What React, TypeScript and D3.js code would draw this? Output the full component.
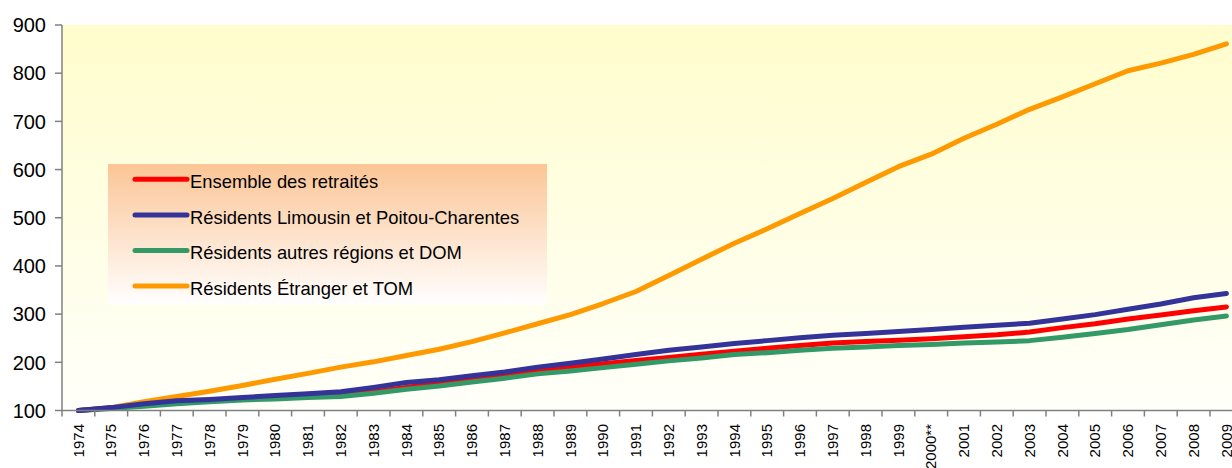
import React from "react";
import * as d3 from "d3";

const years = ["1974","1975","1976","1977","1978","1979","1980","1981","1982","1983","1984","1985","1986","1987","1988","1989","1990","1991","1992","1993","1994","1995","1996","1997","1998","1999","2000**","2001","2002","2003","2004","2005","2006","2007","2008","2009"];

const ensemble = [100,105,111,117,121,124,127,130,133,139,148,157,165,174,183,190,197,204,210,217,223,229,235,240,243,246,249,253,257,263,272,280,290,298,307,315];
const limousin = [100,106,114,120,123,127,131,135,139,148,158,164,172,180,190,198,207,216,225,232,239,245,251,256,260,264,268,273,277,281,290,299,310,321,334,343];
const autres = [100,104,109,114,118,122,124,127,129,136,144,151,159,167,176,182,189,196,203,209,216,220,225,229,232,235,237,240,242,245,252,260,268,278,288,296];
const etranger = [100,106,118,129,140,152,165,177,190,201,214,227,243,261,280,299,322,347,380,414,447,477,509,540,573,606,632,665,694,725,751,778,805,821,839,861];

const yTicks = [100,200,300,400,500,600,700,800,900];

const seriesNames = ["Ensemble des retraités","Résidents Limousin et Poitou-Charentes","Résidents autres régions et DOM","Résidents Étranger et TOM"];
const seriesColors = ["#FF0000","#333399","#339966","#FF9900"];

export default function App() {
  const W = 1232, H = 468;
  const left = 62, top = 25, bottom = 410.5;
  const band = 32.8;
  const x = d3.scaleBand<string>().domain(years).range([left, left + band * years.length]).padding(0);
  const y = d3.scaleLinear().domain([100, 900]).range([bottom, top]);
  const line = d3.line<number>()
    .x((_, i) => (x(years[i]) as number) + x.bandwidth() / 2)
    .y((d) => y(d));
  const data = [ensemble, limousin, autres, etranger];
  const drawOrder = [3, 0, 2, 1];
  const font = "'Liberation Sans', Arial, sans-serif";
  const legendRows = [179.3, 215, 250.5, 286];

  return (
    <svg width={W} height={H} style={{ position: "absolute", left: 0, top: 0, display: "block" }} fontFamily={font}>
      <defs>
        <linearGradient id="bg" x1="0" y1="0" x2="0" y2="1">
          <stop offset="0" stopColor="#FFFDCC" />
          <stop offset="1" stopColor="#FFFFFA" />
        </linearGradient>
        <linearGradient id="lg" x1="0" y1="0" x2="0" y2="1">
          <stop offset="0" stopColor="#FBC595" />
          <stop offset="1" stopColor="#FFFFFF" />
        </linearGradient>
      </defs>
      <rect x={0} y={0} width={W} height={H} fill="#FFFFFF" />
      <rect x={left} y={top} width={band * years.length} height={bottom - top} fill="url(#bg)" />
      <rect x={108} y={164} width={439} height={141} fill="url(#lg)" />
      {legendRows.map((ly, i) => (
        <g key={i}>
          <line x1={135} x2={187} y1={ly} y2={ly} stroke={seriesColors[i]} strokeWidth={5} strokeLinecap="round" />
          <text x={190} y={ly + 8.5} fontSize={18.4} fill="#000">{seriesNames[i]}</text>
        </g>
      ))}
      {drawOrder.map((k) => (
        <path key={k} d={line(data[k]) || ""} fill="none" stroke={seriesColors[k]} strokeWidth={5} strokeLinejoin="round" strokeLinecap="round" />
      ))}
      <line x1={left} x2={left} y1={top} y2={bottom} stroke="#808080" strokeWidth={1.5} />
      <line x1={left} x2={left + band * years.length} y1={bottom} y2={bottom} stroke="#808080" strokeWidth={1.5} />
      {yTicks.map((t) => (
        <g key={t}>
          <line x1={left - 7} x2={left} y1={y(t)} y2={y(t)} stroke="#808080" strokeWidth={1.5} />
          <text x={46} y={y(t)} dy="0.36em" textAnchor="end" fontSize={20} fill="#000">{t}</text>
        </g>
      ))}
      {years.map((yr, i) => (
        <g key={yr}>
          <line x1={(x(yr) as number)} x2={(x(yr) as number)} y1={bottom} y2={bottom + 6} stroke="#808080" strokeWidth={1.5} />
          <text transform={`translate(${(x(yr) as number) + x.bandwidth() / 2},424) rotate(-90)`} dy="0.35em" textAnchor="end" fontSize={15} fill="#000">{yr}</text>
        </g>
      ))}
    </svg>
  );
}
